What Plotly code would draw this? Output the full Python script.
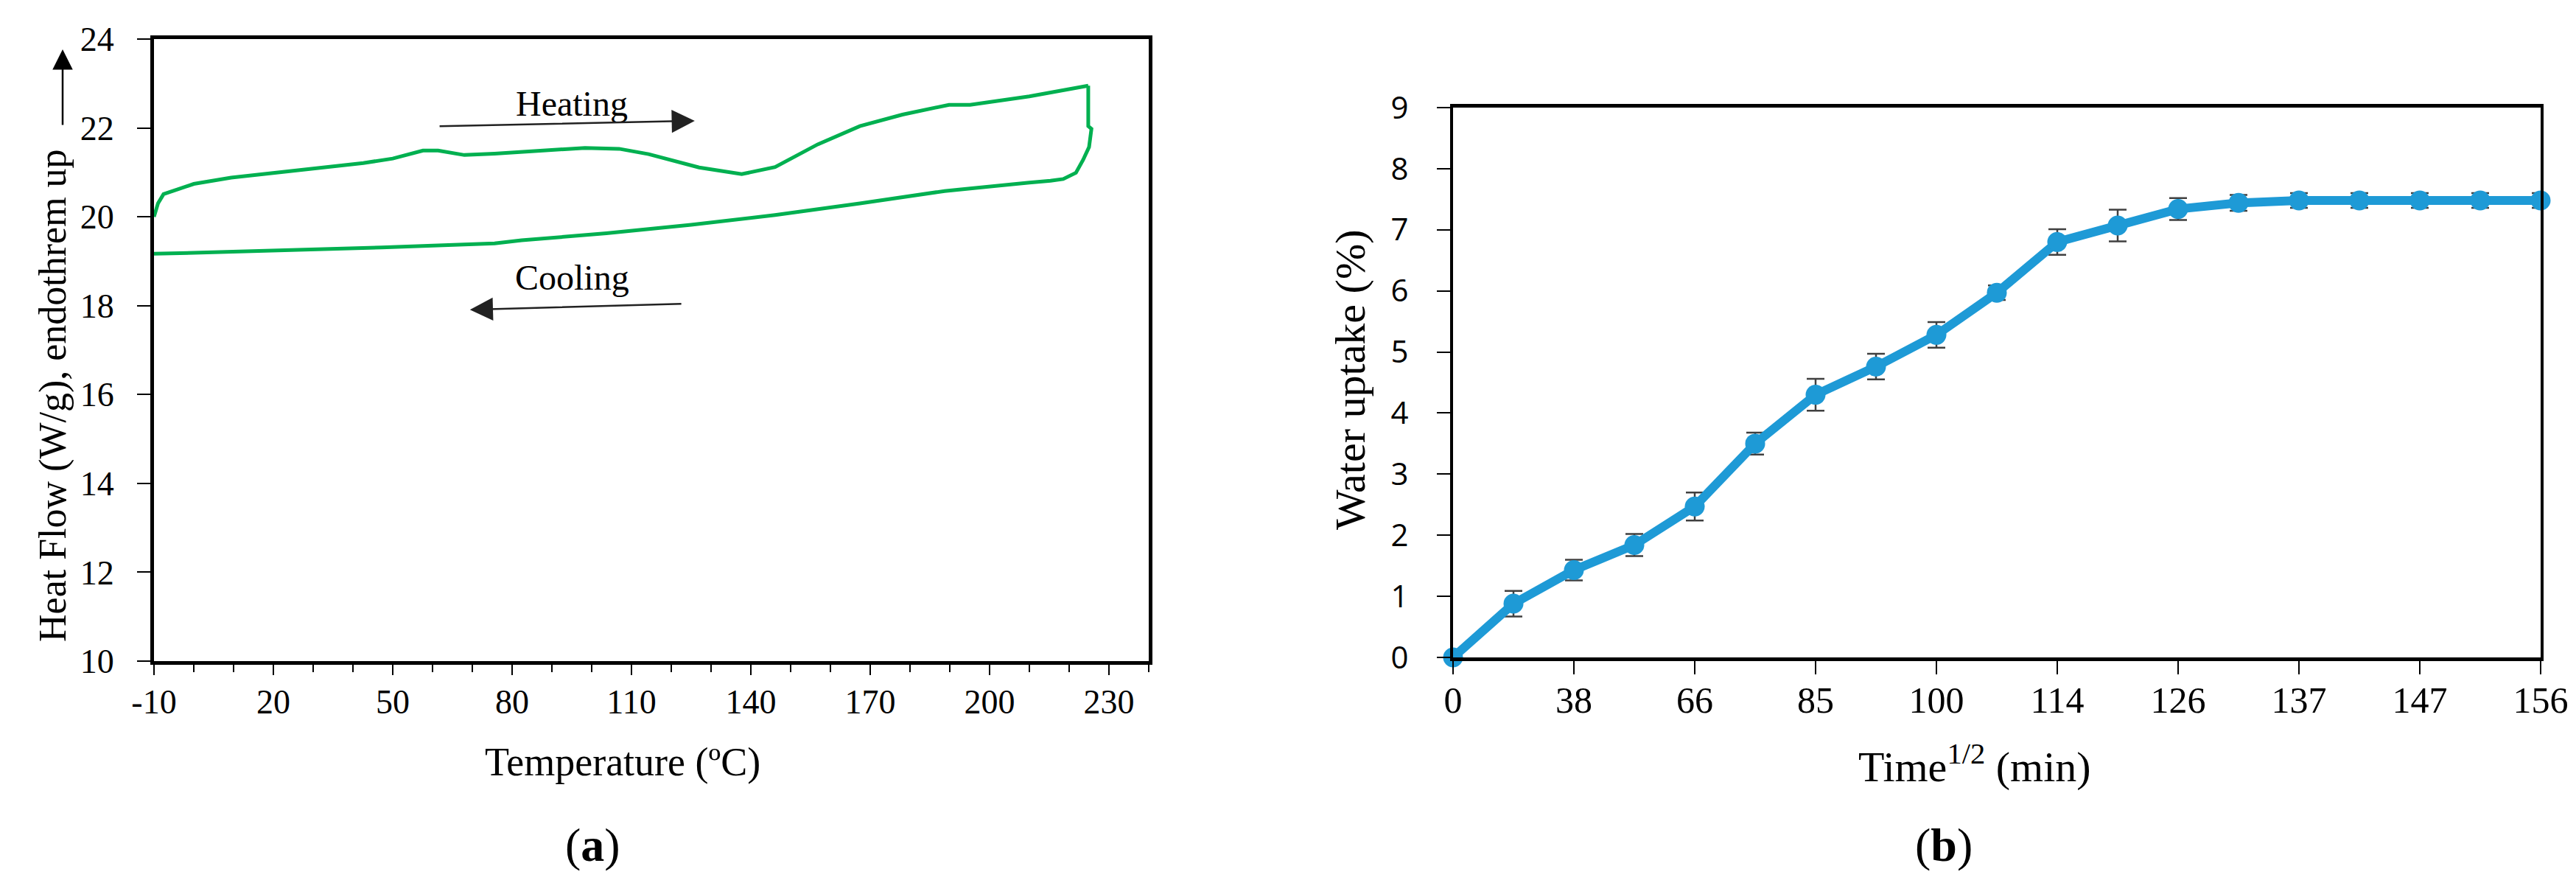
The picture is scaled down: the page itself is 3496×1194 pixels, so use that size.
import plotly.graph_objs as go
from plotly.subplots import make_subplots

# (a) DSC curve, heating run then cooling run
heating_temp = [-10, -9.0, -7.6, 0, 9.4, 28.3, 42.6, 50, 57.6, 61.4, 68, 75.6, 89.8, 98.3,
                106.9, 114.3, 127, 137.7, 146.1, 156.8, 167.4, 178.1, 189.8, 195.1, 210, 224.8]
heating_flow = [20.0, 20.3, 20.51, 20.74, 20.88, 21.06, 21.21, 21.31, 21.49, 21.49, 21.39, 21.42, 21.5, 21.55,
                21.53, 21.41, 21.11, 20.96, 21.12, 21.63, 22.04, 22.30, 22.52, 22.52, 22.71, 22.95]
cooling_temp = [224.8, 224.8, 225.6, 225.0, 223.5, 221.7, 218.5, 215.3, 210, 188.7, 167.4, 146.1,
                125, 103.7, 82.4, 75.6, 47.2, 18.9, 0, -10]
cooling_flow = [22.95, 22.04, 21.98, 21.57, 21.28, 20.99, 20.85, 20.81, 20.77, 20.58, 20.30, 20.04,
                19.82, 19.63, 19.47, 19.40, 19.31, 19.23, 19.19, 19.17]
temp_ticks = [-10, 20, 50, 80, 110, 140, 170, 200, 230]
temp_labels = ["-10", "20", "50", "80", "110", "140", "170", "200", "230"]

# (b) water uptake
time_labels = ["0", "38", "66", "85", "100", "114", "126", "137", "147", "156"]
uptake = [0, 0.88, 1.43, 1.84, 2.47, 3.50, 4.30, 4.76, 5.28, 5.97, 6.80, 7.07, 7.34, 7.44,
          7.48, 7.48, 7.48, 7.48, 7.48]
uptake_err = [0, 0.21, 0.17, 0.18, 0.23, 0.18, 0.26, 0.21, 0.21, 0.12, 0.21, 0.26, 0.18, 0.13,
              0.12, 0.12, 0.12, 0.12, 0.12]

SERIF = "Liberation Serif, Times New Roman, serif"
SANS = "Open Sans, Liberation Sans, sans-serif"
W, H = 3496, 1194


def px_x(v):
    return v / W


def px_y(v):
    return 1 - v / H


fig = make_subplots(rows=1, cols=2)

for temps, flows in [(heating_temp, heating_flow), (cooling_temp, cooling_flow)]:
    fig.add_trace(go.Scatter(x=temps, y=flows, mode="lines", line=dict(color="#00B050", width=5),
                             showlegend=False), row=1, col=1)

pos = list(range(len(uptake)))
fig.add_trace(go.Scatter(x=pos, y=uptake, mode="lines+markers", cliponaxis=False,
                         line=dict(color="#1E9AD6", width=12),
                         marker=dict(color="#1E9AD6", size=27, symbol="circle"),
                         error_y=dict(type="data", array=uptake_err, color="#404040", thickness=2.5, width=12),
                         showlegend=False), row=1, col=2)

fig.update_layout(width=W, height=H, margin=dict(l=0, r=0, t=0, b=0),
                  plot_bgcolor="white", paper_bgcolor="white", showlegend=False,
                  font=dict(family=SERIF, color="black"))

# left panel axes
fig.update_xaxes(row=1, col=1, domain=[px_x(201), px_x(1551)], range=[-10, 240],
                 tickvals=temp_ticks, ticktext=temp_labels,
                 ticks="outside", ticklen=14, tickwidth=2, tickcolor="black",
                 minor=dict(dtick=10, tick0=-10, ticks="outside", ticklen=10, tickwidth=2, tickcolor="black"),
                 showline=True, linewidth=5, linecolor="black", mirror=True, showgrid=False, zeroline=False,
                 tickfont=dict(family=SERIF, size=46), ticklabelstandoff=-3, automargin=False)
fig.update_yaxes(row=1, col=1, domain=[px_y(889), px_y(45)], range=[10, 24], dtick=2,
                 ticks="outside", ticklen=18, tickwidth=2, tickcolor="black",
                 showline=True, linewidth=5, linecolor="black", mirror=True, showgrid=False, zeroline=False,
                 tickfont=dict(family=SERIF, size=46), ticklabelstandoff=22, automargin=False)

# right panel axes
fig.update_xaxes(row=1, col=2, domain=[px_x(1964), px_x(3440)], range=[0, len(uptake) - 1],
                 tickvals=pos[::2], ticktext=time_labels,
                 ticks="outside", ticklen=18, tickwidth=2, tickcolor="black",
                 showline=True, linewidth=5, linecolor="black", mirror=True, showgrid=False, zeroline=False,
                 tickfont=dict(family=SERIF, size=50), ticklabelstandoff=-8, automargin=False)
fig.update_yaxes(row=1, col=2, domain=[px_y(884), px_y(138)], range=[0, 9], dtick=1,
                 ticks="outside", ticklen=18, tickwidth=2, tickcolor="black",
                 showline=True, linewidth=4, linecolor="black", mirror=True, showgrid=False, zeroline=False,
                 tickfont=dict(family=SANS, size=42), ticklabelstandoff=30, automargin=False)

# axis titles
fig.add_annotation(x=px_x(837), y=px_y(1026), xref="paper", yref="paper", xanchor="center", yanchor="middle",
                   text="Temperature (ºC)", showarrow=False, font=dict(family=SERIF, size=54))
fig.add_annotation(x=px_x(64), y=px_y(529), xref="paper", yref="paper", xanchor="center", yanchor="middle",
                   text="Heat Flow (W/g), endothrem up", textangle=-90, showarrow=False,
                   font=dict(family=SERIF, size=52))
fig.add_annotation(x=px_x(77), y=px_y(59), xref="paper", yref="paper", ax=0, ay=104, text="",
                   showarrow=True, arrowhead=2, arrowsize=2.2, arrowwidth=2.5, arrowcolor="black")
fig.add_annotation(x=px_x(2672), y=px_y(1028), xref="paper", yref="paper", xanchor="center", yanchor="middle",
                   text="Time<sup>1/2</sup> (min)", showarrow=False, font=dict(family=SERIF, size=58))
fig.add_annotation(x=px_x(1824), y=px_y(507), xref="paper", yref="paper", xanchor="center", yanchor="middle",
                   text="Water uptake (%)", textangle=-90, showarrow=False, font=dict(family=SERIF, size=58))

# heating / cooling labels and direction arrows
fig.add_annotation(x=95, y=22.55, xref="x", yref="y", text="Heating", showarrow=False,
                   font=dict(family=SERIF, size=48))
fig.add_annotation(x=125.9, y=22.16, ax=61.5, ay=22.04, xref="x", yref="y", axref="x", ayref="y",
                   text="", showarrow=True, arrowhead=2, arrowsize=2.5, arrowwidth=2.5, arrowcolor="#222")
fig.add_annotation(x=95, y=18.64, xref="x", yref="y", text="Cooling", showarrow=False,
                   font=dict(family=SERIF, size=48))
fig.add_annotation(x=69.4, y=17.91, ax=122.8, ay=18.04, xref="x", yref="y", axref="x", ayref="y",
                   text="", showarrow=True, arrowhead=2, arrowsize=2.5, arrowwidth=2.5, arrowcolor="#222")

# panel letters
fig.add_annotation(x=px_x(796), y=px_y(1138), xref="paper", yref="paper", xanchor="center", yanchor="middle",
                   text="(<b>a</b>)", showarrow=False, font=dict(family=SERIF, size=64))
fig.add_annotation(x=px_x(2630), y=px_y(1138), xref="paper", yref="paper", xanchor="center", yanchor="middle",
                   text="(<b>b</b>)", showarrow=False, font=dict(family=SERIF, size=64))

fig.write_html("out.html")
